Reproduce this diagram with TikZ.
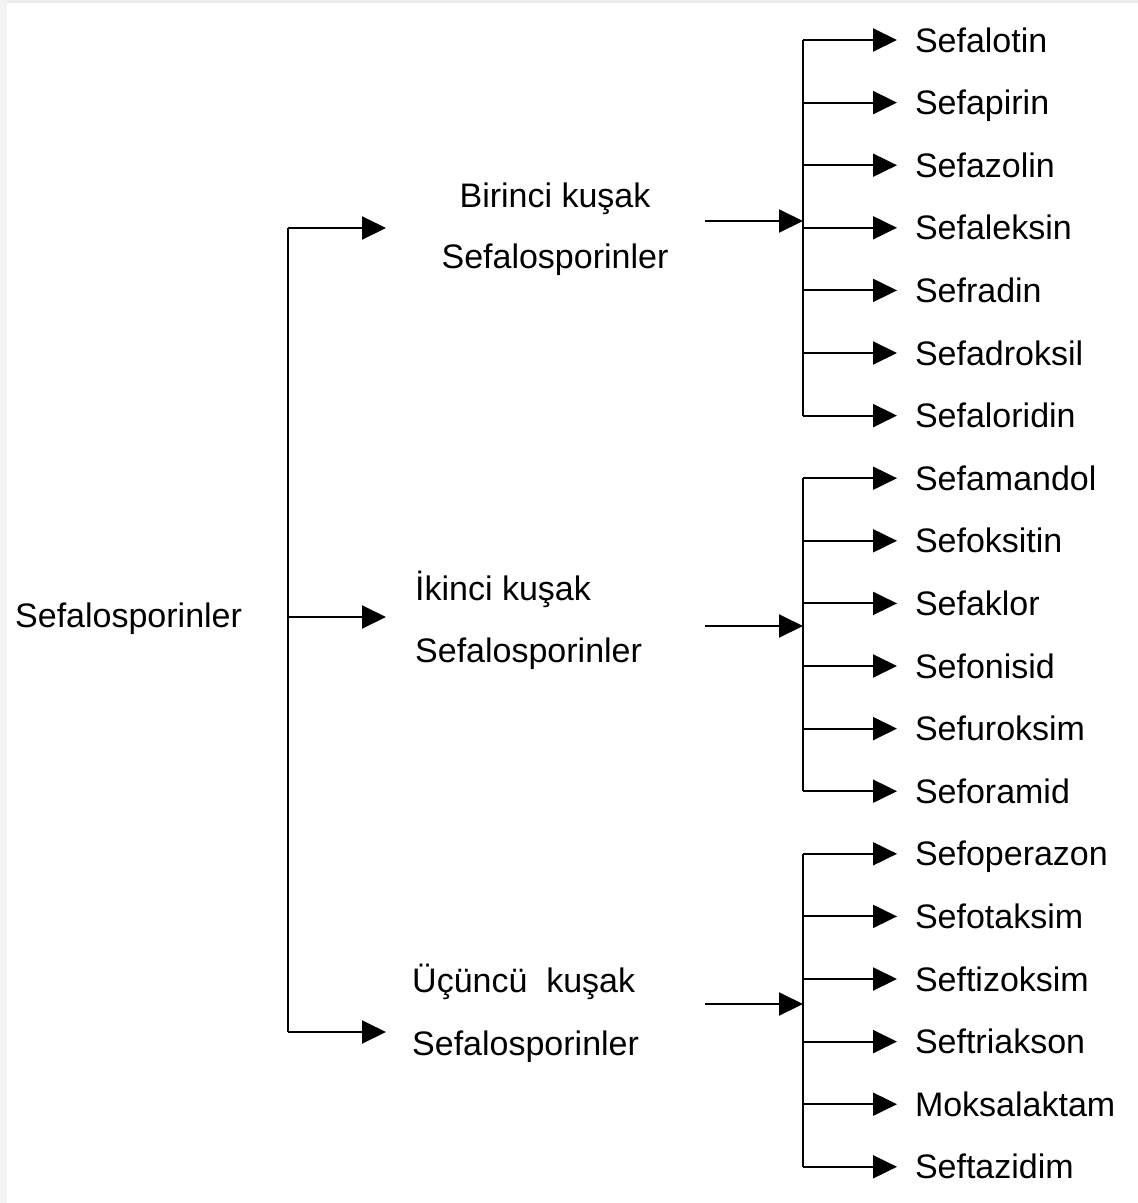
\documentclass[tikz,border=0pt]{standalone}
\usepackage{fontspec}
\setmainfont{Liberation Sans}
\usetikzlibrary{arrows.meta,positioning}
\definecolor{Frame}{HTML}{ECECEC}
\definecolor{FrameSide}{HTML}{F3F3F3}

\tikzset{
  lbl/.style={font=\fontsize{34}{40}\selectfont,inner sep=0pt,text height=24pt,text depth=0pt},
  leaf/.style={lbl,anchor=west,outer xsep=18pt},
  arr/.style={-{Triangle[length=24pt,width=23pt]},line width=2pt},
  bar/.style={line width=2pt}
}

\begin{document}
\begin{tikzpicture}[x=1pt,y=-1pt]
    \useasboundingbox (0,0) rectangle (1138,1203);
    \fill[Frame] (0,0) rectangle (1138,3);
    \fill[FrameSide] (0,0) rectangle (7,1203);
    \node[lbl,anchor=west] (root) at (15,615) {Sefalosporinler};
    \coordinate (rtop) at (288,228);
    \coordinate (rmid) at (288,617);
    \coordinate (rbot) at (288,1032);
    \coordinate (tips) at (386,0);
    \draw[bar] (rtop) -- (rbot);
    \node[lbl] (g1a) at (555,195) {Birinci kuşak};
    \node[lbl] (g1b) at (555,256) {Sefalosporinler};
    \node[lbl,anchor=west] (g2a) at (415,588) {İkinci kuşak};
    \node[lbl,anchor=west] (g2b) at (415,650) {Sefalosporinler};
    \node[lbl,anchor=west] (g3a) at (412,980) {Üçüncü\ \ kuşak};
    \node[lbl,anchor=west] (g3b) at (412,1043) {Sefalosporinler};
    \foreach \r in {rtop,rmid,rbot}
      \draw[arr] (\r) -- (\r -| tips);
    \coordinate (src1) at (705,221);
    \coordinate (hub1) at (803,221);
    \coordinate (src2) at (705,626);
    \coordinate (hub2) at (803,626);
    \coordinate (src3) at (705,1004);
    \coordinate (hub3) at (803,1004);
    \foreach \g in {1,2,3}
      \draw[arr] (src\g) -- (hub\g);
    \foreach \drug [count=\i from 0] in {Sefalotin,Sefapirin,Sefazolin,Sefaleksin,Sefradin,Sefadroksil,Sefaloridin,Sefamandol,Sefoksitin,Sefaklor,Sefonisid,Sefuroksim,Seforamid,Sefoperazon,Sefotaksim,Seftizoksim,Seftriakson,Moksalaktam,Seftazidim}
      \node[leaf] (d\i) at (897,{40+62.6*\i}) {\drug};
    \draw[bar] (d0.west -| hub1) -- (d6.west -| hub1);
    \draw[bar] (d7.west -| hub2) -- (d12.west -| hub2);
    \draw[bar] (d13.west -| hub3) -- (d18.west -| hub3);
    \foreach \i in {0,...,6}
      \draw[arr] (d\i.west -| hub1) -- (d\i.west);
    \foreach \i in {7,...,12}
      \draw[arr] (d\i.west -| hub2) -- (d\i.west);
    \foreach \i in {13,...,18}
      \draw[arr] (d\i.west -| hub3) -- (d\i.west);
\end{tikzpicture}
\end{document}
